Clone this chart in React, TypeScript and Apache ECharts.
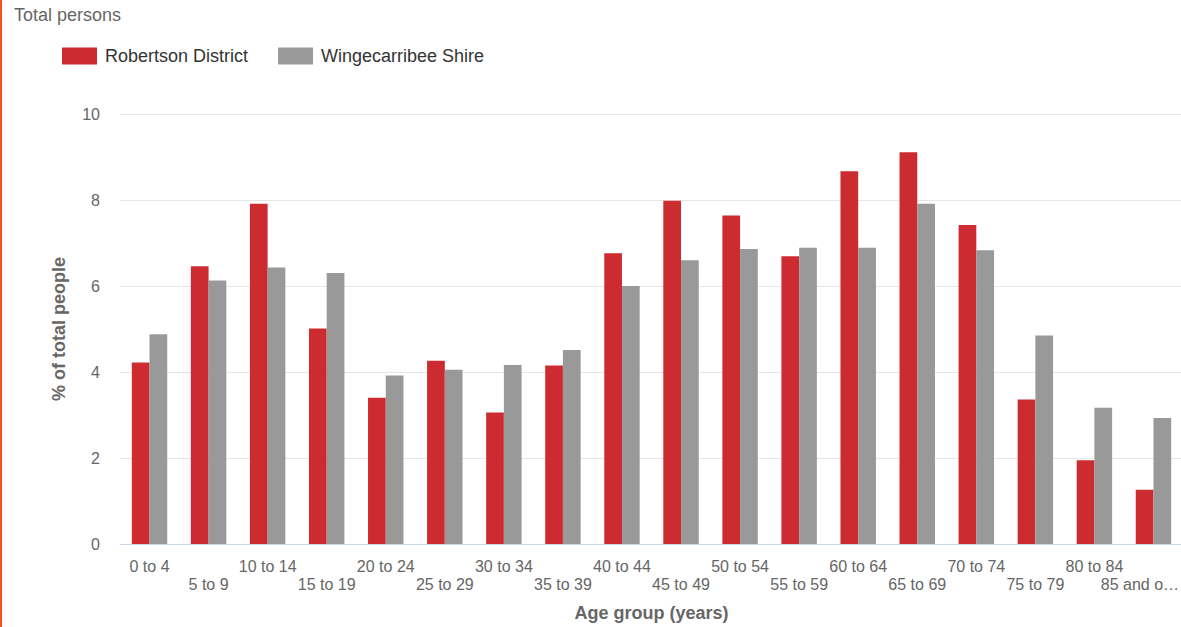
import React, { useEffect, useRef } from "react";
import * as echarts from "echarts";

const categories = [
  "0 to 4", "5 to 9", "10 to 14", "15 to 19", "20 to 24", "25 to 29",
  "30 to 34", "35 to 39", "40 to 44", "45 to 49", "50 to 54", "55 to 59",
  "60 to 64", "65 to 69", "70 to 74", "75 to 79", "80 to 84", "85 and over",
];

const robertson = [
  4.22, 6.46, 7.91, 5.01, 3.40, 4.26, 3.06, 4.15, 6.76, 7.98,
  7.64, 6.69, 8.67, 9.11, 7.42, 3.36, 1.95, 1.26,
];

const wingecarribee = [
  4.88, 6.13, 6.43, 6.30, 3.92, 4.05, 4.16, 4.51, 6.00, 6.60,
  6.86, 6.89, 6.89, 7.91, 6.83, 4.85, 3.17, 2.93,
];

const seriesNames = ["Robertson District", "Wingecarribee Shire"];
const yTicks = { min: 0, max: 10, interval: 2 };

export default function App() {
  const ref = useRef<HTMLDivElement>(null);

  useEffect(() => {
    document.body.style.margin = "0";
    document.body.style.overflow = "hidden";
    const chart = echarts.init(ref.current!, undefined, { renderer: "svg" });
    const font = "Liberation Sans, Arial, sans-serif";
    chart.setOption({
      animation: false,
      textStyle: { fontFamily: font },
      title: {
        text: "Total persons",
        left: 14,
        top: 6,
        padding: 0,
        textStyle: { fontFamily: font, fontSize: 18, fontWeight: "normal", color: "#666666" },
      },
      legend: {
        left: 62,
        top: 47,
        padding: 0,
        itemWidth: 35,
        itemHeight: 17,
        itemGap: 30,
        icon: "rect",
        data: seriesNames,
        textStyle: { fontFamily: font, fontSize: 18, color: "#333333", padding: [0, 0, 0, 3] },
      },
      graphic: [
        { type: "rect", left: 0, top: 0, shape: { x: 0, y: 0, width: 2, height: 627 }, style: { fill: "#f4511e" } },
      ],
      grid: { left: 120, right: 17, top: 114, bottom: 83, containLabel: false, outerBoundsMode: "none" },
      xAxis: {
        type: "category",
        data: categories,
        name: "Age group (years)",
        nameLocation: "middle",
        nameGap: 60,
        nameTextStyle: { fontFamily: font, fontSize: 18, fontWeight: "bold", color: "#666666" },
        axisLine: { lineStyle: { color: "#ccd6eb", width: 1 } },
        axisTick: { alignWithLabel: true, length: 12, lineStyle: { color: "#ccd6eb" } },
        axisLabel: {
          interval: 0,
          margin: 13,
          fontSize: 16,
          lineHeight: 18,
          color: "#666666",
          fontFamily: font,
          rich: {
            last: { fontFamily: font, fontSize: 16, lineHeight: 18, color: "#666666", padding: [0, 27, 0, 0] },
          },
          formatter: (v: string, i: number) => {
            const t = v.length > 9 ? "{last|" + v.slice(0, 8) + "…}" : v;
            return i % 2 === 1 ? "\n" + t : t;
          },
        },
      },
      yAxis: {
        type: "value",
        min: yTicks.min,
        max: yTicks.max,
        interval: yTicks.interval,
        name: "% of total people",
        nameLocation: "middle",
        nameGap: 52,
        nameTextStyle: { fontFamily: font, fontSize: 18, fontWeight: "bold", color: "#666666" },
        axisLine: { show: false },
        axisTick: { show: false },
        axisLabel: { margin: 20, fontSize: 16, color: "#666666", fontFamily: font },
        splitLine: { lineStyle: { color: "#e6e6e6", width: 1 } },
      },
      series: [
        {
          name: seriesNames[0],
          type: "bar",
          data: robertson,
          barGap: "0%",
          barCategoryGap: "40%",
          itemStyle: { color: "#cc2b30" },
        },
        {
          name: seriesNames[1],
          type: "bar",
          data: wingecarribee,
          barGap: "0%",
          barCategoryGap: "40%",
          itemStyle: { color: "#999999" },
        },
      ],
    });
    return () => chart.dispose();
  }, []);

  return <div ref={ref} style={{ width: 1200, height: 627 }} />;
}
